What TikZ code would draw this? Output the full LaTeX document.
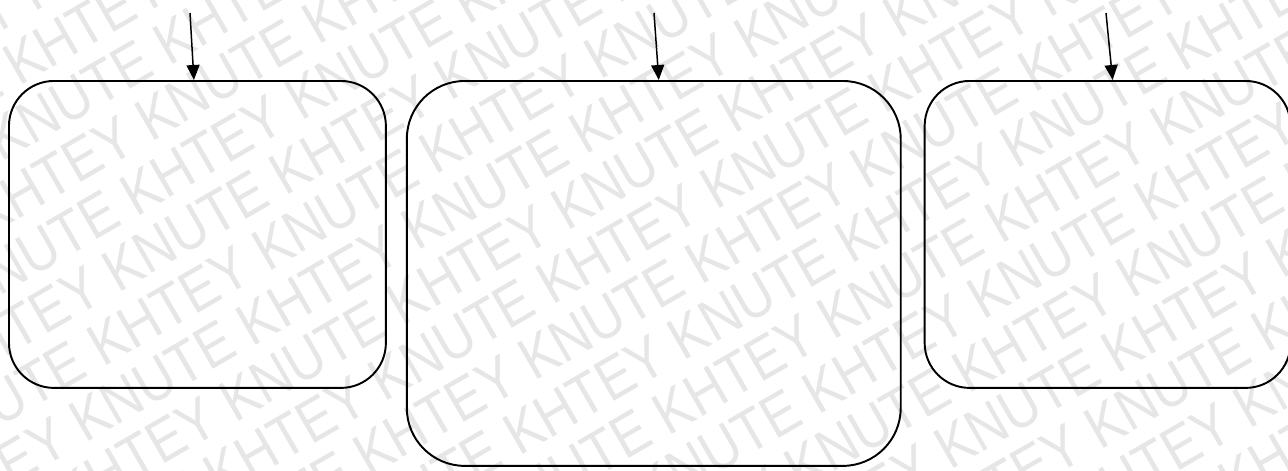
\documentclass[tikz,border=0pt]{standalone}
\usepackage{fontspec}
\newfontfamily\wmfont[FakeStretch=0.88]{Liberation Sans}
\usepackage{xcolor}
\definecolor{cLine}{HTML}{000000}
\definecolor{cMark}{HTML}{E6E6E6}
\usepackage{tikz}
\usetikzlibrary{positioning,arrows.meta}
\tikzset{
  node-box/.style={draw=cLine,line width=1.1pt,inner sep=0pt,
    minimum width=7.54cm,minimum height=6.14cm,rounded corners=0.9cm},
  % watermark text, repeated in slanted rows
  node-mark/.style={text=cMark,inner sep=0pt,rotate=30,anchor=base west,
    font=\wmfont\fontsize{34.1}{36}\selectfont},
  arrow/.style={-{Triangle[length=3mm,width=2.6mm]},line width=0.85pt,draw=cLine},
}
\newcommand{\markrow}{KNUTE KHTEY KNUTE KHTEY KNUTE KHTEY KNUTE KHTEY KNUTE KHTEY KNUTE KHTEY}

\begin{document}
\begin{tikzpicture}[x=0.02cm,y=-0.02cm]
  \useasboundingbox (0,0) rectangle (1288,470);
  \begin{scope}
    \clip (0,0) rectangle (1288,470);
    \foreach \k in {0,...,20}{
      \pgfmathsetmacro\ma{mod(268+140*\k,384)-768}
      \pgfmathsetmacro\mn{57*\k-29}
      \node[node-mark] (mark\k) at ({0.866*\ma+0.5*\mn},{-0.5*\ma+0.866*\mn}) {\markrow};
    }
  \end{scope}
  \node[node-box,anchor=north west] (b1) at (8,80) {};
  \node[node-box,right=0.38cm of b1.north east,anchor=north west,
    minimum width=9.88cm,minimum height=7.7cm,rounded corners=1.16cm] (b2) {};
  \node[node-box,right=0.44cm of b2.north east,anchor=north west,
    minimum width=7.32cm] (b3) {};
  \coordinate (in1) at (190,13);
  \coordinate (in2) at (654,13);
  \coordinate (in3) at (1106,13);
  \draw[arrow] (in1) -- ([xshift=-0.07cm]b1.north);
  \draw[arrow] (in2) -- ([xshift=0.1cm]b2.north);
  \draw[arrow] (in3) -- ([xshift=0.1cm]b3.north);
\end{tikzpicture}
\end{document}
